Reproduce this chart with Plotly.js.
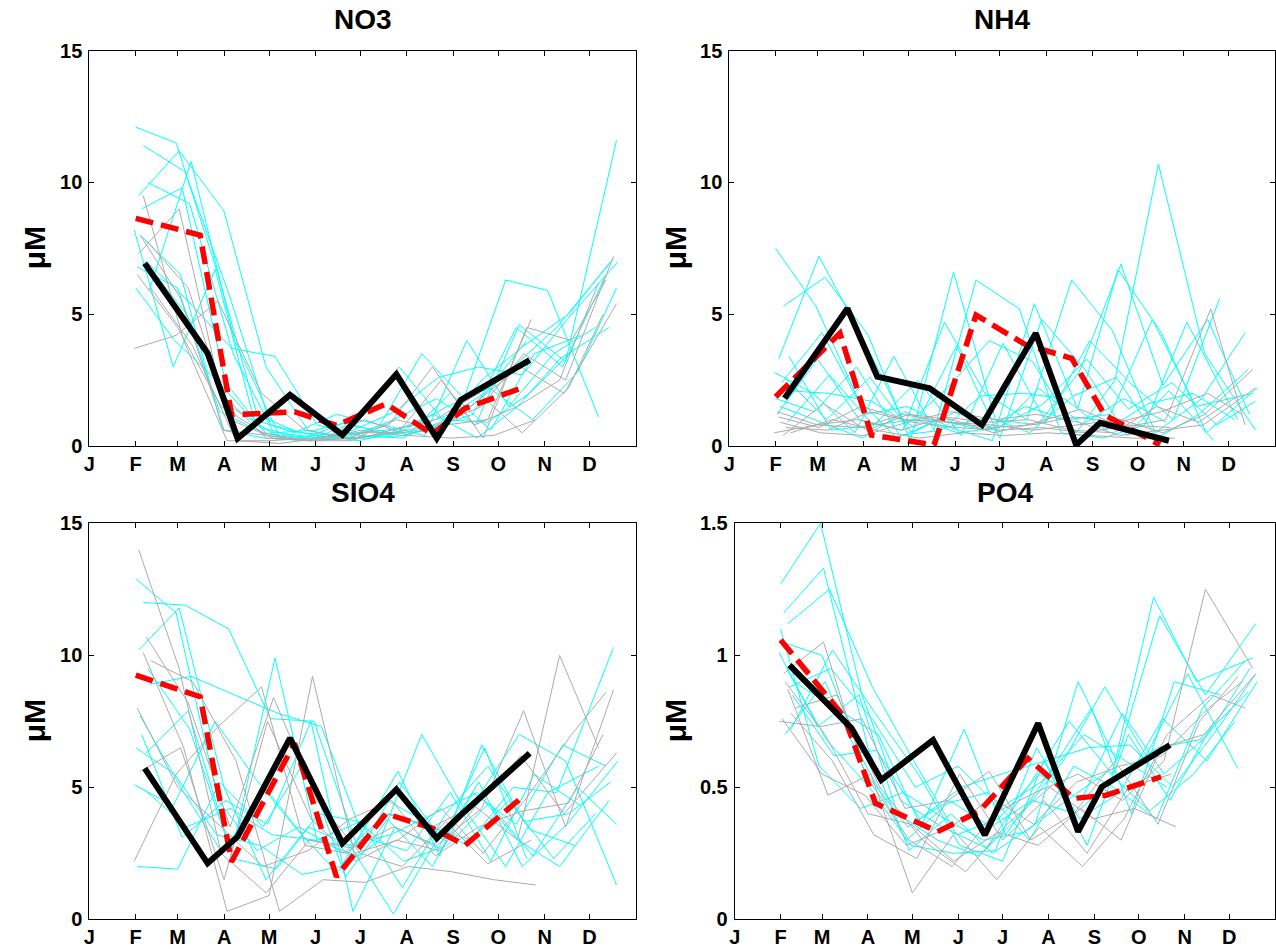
<!DOCTYPE html>
<html>
<head>
<meta charset="utf-8">
<script src="https://cdn.plot.ly/plotly-3.0.1.min.js"></script>
<style>html,body{margin:0;padding:0;background:#fff;}#chart{width:1276px;height:949px;}</style>
</head>
<body>
<div id="chart"></div>
<script>
// ---------- axis ticks ----------
const monthLabels = ['J','F','M','A','M','J','J','A','S','O','N','D'];
const monthStarts = [0,31,59,90,120,151,181,212,243,273,304,334];
const panelTitles = ['NO3','NH4','SIO4','PO4'];
const yUnit = 'μM';

// ---------- sampling days (day of year) of the individual years ----------
const cyanDays = [
  [31,58,86,112,140,170,198,226,255,283,312,350],
  [33,60,90,118,146,174,203,232,258,287,318,352],
  [36,64,93,121,150,178,206,234,262,290,320,348],
  [30,56,84,110,137,165,194,222,250,278,306,340],
  [38,66,95,124,152,181,209,238,266,294,324],
  [32,59,87,116,144,171,199,229,256,285,316,345],
  [40,68,97,126,155,183,212,241,268,297,328],
  [35,62,91,119,148,176,204,233,260,289,319,353],
  [31,57,85,114,142,168,196,224,252,280,310,338],
  [37,65,94,122,151,179,207,236,264,292],
  [34,61,89,117,145,173,201,230,259,286,314,347],
  [39,67,96,125,153,180,210,239,267,296,326,352]
];
const grayDays = [
  [33,60,88,118,147,175,203,232,262,290,318,350],
  [36,63,92,120,149,177,206,235,263,292,322,345],
  [30,58,86,115,144,172,200,229,257,286,314,340],
  [38,66,94,123,152,181,209,238,266,295],
  [34,61,90,119,148,178,205,234,261,288,317,352],
  [41,69,98,127,156,184,213,242,270,298],
  [32,59,88,116,146,174,202,231,260,289,320,343]
];
const meanDays   = [37,79,99,134,169,205,232,248,294];
const medianDays = [31,74,95,137,165,198,229,251,288];

// ---------- NO3 ----------
const no3Cyan = [
  [12.1,11.5,6.5,1.2,0.5,0.4,0.6,0.9,1.5,3.0,4.5,7.1],
  [9.5,11.2,8.9,3.0,0.6,0.3,1.0,1.8,0.8,4.6,3.2,11.6],
  [11.4,10.4,5.8,0.8,0.4,0.3,0.5,0.6,2.5,3.8,5.0,7.0],
  [8.2,3.0,6.7,1.0,0.5,1.2,0.8,3.5,1.8,6.3,5.9,1.1],
  [7.0,5.5,3.7,3.4,0.8,0.4,0.3,1.0,0.9,2.0,3.7],
  [6.8,6.0,1.3,0.5,0.3,0.9,0.4,0.7,1.2,4.5,3.0,6.5],
  [5.9,10.8,4.0,0.5,0.3,0.3,0.4,2.0,0.6,3.5,4.2],
  [9.0,9.8,2.4,0.4,0.2,0.6,1.3,2.6,3.0,2.7,4.8,7.0],
  [6.0,4.0,2.5,0.7,0.3,0.3,0.8,0.4,4.0,1.5,3.5,4.5],
  [7.0,5.0,1.5,0.5,0.6,1.0,3.0,1.0,2.0,4.0],
  [8.0,6.5,0.6,0.3,0.2,0.8,0.5,1.2,0.3,1.5,3.3,4.5],
  [10.0,9.2,3.5,0.3,0.4,0.2,0.6,1.5,2.2,1.0,2.8,6.0]
];
const no3Gray = [
  [7.3,9.0,2.0,0.3,0.2,0.3,0.5,0.8,1.5,3.5,2.5,7.2],
  [9.5,4.0,0.2,0.2,0.3,0.5,0.5,2.5,0.3,4.5,4.0,6.3],
  [3.7,4.2,5.5,2.0,0.6,0.3,0.8,3.0,0.8,1.5,2.5,6.2],
  [7.8,6.0,1.0,0.3,0.2,0.6,0.4,0.8,1.0,4.8],
  [8.0,5.6,0.6,0.4,0.2,0.3,1.0,0.6,1.8,3.0,2.0,5.4],
  [6.0,3.8,0.2,0.1,0.3,1.0,0.4,0.3,0.4,1.0],
  [6.5,4.5,1.5,0.5,0.2,0.2,0.6,1.0,2.0,0.5,2.2,5.0]
];
const no3Mean   = [6.93,3.52,0.29,1.94,0.42,2.72,0.29,1.75,3.26];
const no3Median = [8.64,8.0,1.18,1.3,0.78,1.6,0.45,1.43,2.19];

// ---------- NH4 ----------
const nh4Cyan = [
  [7.5,5.3,1.8,0.3,1.0,0.6,1.5,1.0,1.2,4.8,1.5,2.0],
  [3.3,7.2,4.0,0.8,2.2,4.0,3.2,0.5,2.5,10.7,3.5,0.6],
  [5.3,6.4,4.2,0.2,6.6,1.0,0.8,2.8,6.9,2.3,4.8,1.2],
  [2.8,2.0,0.5,3.4,0.6,6.3,5.2,0.5,0.3,0.8,4.7,1.0],
  [2.1,2.0,1.7,0.7,3.8,0.3,4.8,2.9,0.4,2.1,0.2],
  [1.2,3.3,1.0,0.6,4.7,2.0,1.0,6.3,4.4,0.5,1.8,4.3],
  [3.4,0.6,0.8,2.5,0.4,3.9,0.9,4.0,2.4,1.0,5.6],
  [2.4,4.3,1.2,1.5,0.7,0.2,5.4,1.4,6.7,4.3,0.5,2.2],
  [1.8,1.3,3.0,0.4,0.6,1.9,2.0,1.8,0.6,1.6,2.0,1.0],
  [2.6,1.0,2.6,0.5,1.3,0.6,2.2,0.8,1.8,0.9],
  [1.5,0.9,0.3,1.3,0.7,1.1,0.5,1.9,2.6,0.3,1.2,2.9],
  [0.9,2.7,0.8,1.0,0.5,0.7,1.6,3.3,1.4,2.4,0.8,1.7]
];
const nh4Gray = [
  [1.1,0.7,1.5,1.0,0.9,0.8,0.6,0.8,1.0,0.5,1.2,2.9],
  [0.4,1.6,0.6,1.2,1.0,0.5,0.9,1.4,0.7,1.0,5.2,0.8],
  [0.5,0.8,1.0,0.6,1.1,0.9,1.0,0.6,0.5,1.5,0.9,1.9],
  [0.7,0.6,1.3,0.9,0.7,0.6,0.7,0.5,0.8,0.7],
  [0.9,0.5,0.4,0.9,1.3,1.0,1.2,0.9,0.4,0.6,0.8,2.2],
  [0.5,1.0,0.6,0.3,0.5,0.4,0.5,0.4,0.3,0.3],
  [1.3,0.8,0.7,1.2,0.9,0.7,0.8,1.1,0.9,1.3,2.0,1.2]
];
const nh4Mean   = [1.81,5.22,2.63,2.19,0.8,4.28,0.04,0.88,0.2];
const nh4Median = [1.87,4.28,0.42,0.04,4.97,3.85,3.33,1.18,0.04];

// ---------- SIO4 ----------
const sio4Cyan = [
  [12.9,11.6,4.5,2.6,3.5,2.5,4.0,3.5,3.0,5.0,4.8,10.3],
  [10.2,11.8,5.0,1.5,3.5,2.8,0.2,3.0,4.5,7.0,6.0,1.3],
  [12.0,11.9,11.0,7.6,7.5,2.9,5.6,2.4,6.6,3.7,4.0,5.2],
  [5.1,4.3,7.5,5.4,3.5,1.8,3.0,7.0,4.2,2.0,4.8,5.8],
  [6.3,7.9,2.5,9.9,3.0,3.7,1.2,4.0,5.8,3.4,2.8],
  [2.0,1.9,5.2,3.5,6.0,1.6,3.8,2.0,4.8,3.6,6.6,5.8],
  [8.9,9.2,8.5,7.8,7.3,3.1,2.6,4.8,2.2,5.5,4.3],
  [7.0,3.1,4.5,3.6,7.5,0.3,3.5,2.7,5.2,2.0,3.6,6.0],
  [6.5,5.5,3.2,2.8,1.7,2.0,4.6,3.7,2.8,4.5,2.3,4.0],
  [4.9,3.5,4.2,3.2,3.0,2.4,5.2,3.0,6.5,2.3],
  [7.7,5.0,2.5,5.0,3.0,2.8,3.2,4.0,4.8,3.0,2.0,4.5],
  [9.5,7.2,2.3,1.9,4.0,3.7,2.2,2.8,4.4,2.4,5.0,3.6]
];
const sio4Gray = [
  [14.0,9.5,2.5,1.0,3.0,2.7,3.5,2.8,4.2,7.9,3.5,8.7],
  [10.1,6.5,0.3,0.9,9.2,2.5,3.0,4.2,2.5,4.6,7.0,8.6],
  [2.2,5.5,7.3,8.8,2.8,2.5,4.0,3.5,4.3,3.0,10.0,6.5],
  [10.7,8.2,3.5,8.4,4.5,2.5,2.0,3.7,2.1,3.0],
  [5.6,6.5,1.5,7.5,3.8,2.2,3.0,2.6,4.5,6.2,4.0,6.3],
  [9.8,9.0,6.0,0.3,1.5,1.4,2.0,1.8,1.5,1.3],
  [8.0,5.0,3.5,2.0,2.6,3.8,4.5,2.4,3.5,4.1,4.4,7.0]
];
const sio4Mean   = [5.72,2.12,3.13,6.86,2.88,4.92,3.07,3.95,6.29];
const sio4Median = [9.25,8.43,2.18,6.67,1.61,4.0,3.45,2.81,4.58];

// ---------- PO4 ----------
const po4Cyan = [
  [1.27,1.50,0.85,0.45,0.35,0.27,0.50,0.75,0.55,1.22,0.90,0.99],
  [1.16,1.33,0.65,0.26,0.40,0.25,0.36,0.90,0.60,1.15,0.85,1.12],
  [1.12,1.25,0.88,0.60,0.32,0.38,0.55,0.45,0.78,0.55,0.70,0.95],
  [1.01,0.73,0.85,0.40,0.30,0.24,0.40,0.60,0.88,0.62,0.93,0.57],
  [0.72,1.02,0.78,0.55,0.28,0.22,0.60,0.28,0.70,0.45,0.75],
  [1.05,1.00,0.60,0.30,0.44,0.48,0.30,0.58,0.50,0.38,0.80,0.98],
  [0.90,0.80,0.70,0.35,0.72,0.32,0.55,0.80,0.40,0.90,0.85],
  [0.95,0.68,0.50,0.28,0.25,0.26,0.65,0.38,0.48,0.76,0.60,0.90],
  [1.10,0.58,0.42,0.48,0.38,0.30,0.33,0.45,0.56,0.41,0.55,0.75],
  [0.88,0.95,0.75,0.50,0.58,0.42,0.52,0.70,0.60,0.50],
  [0.70,0.90,0.55,0.35,0.45,0.35,0.45,0.40,0.55,0.65,0.68,0.86],
  [0.85,0.62,0.64,0.38,0.50,0.55,0.60,0.65,0.66,0.50,0.72,0.93]
];
const po4Gray = [
  [0.93,1.05,0.55,0.30,0.20,0.40,0.48,0.55,0.45,0.60,1.25,0.95],
  [0.87,0.47,0.55,0.10,0.33,0.15,0.35,0.20,0.38,0.70,0.85,0.80],
  [0.75,0.73,0.76,0.42,0.45,0.56,0.30,0.40,0.60,0.36,0.75,0.92],
  [0.78,0.60,0.32,0.23,0.55,0.30,0.45,0.25,0.50,0.55],
  [0.90,0.70,0.40,0.36,0.22,0.33,0.28,0.42,0.30,0.65,0.70,0.93],
  [0.80,0.85,0.50,0.30,0.18,0.36,0.50,0.38,0.42,0.35],
  [0.76,0.55,0.47,0.28,0.35,0.46,0.36,0.52,0.58,0.62,0.80,0.90]
];
const po4Mean   = [0.963,0.723,0.528,0.679,0.319,0.742,0.332,0.502,0.66];
const po4Median = [1.058,0.767,0.44,0.332,0.408,0.61,0.458,0.47,0.54];

const yMax  = [15, 15, 15, 1.5];
const yTick = [[0,5,10,15],[0,5,10,15],[0,5,10,15],[0,0.5,1,1.5]];

// ---------- build traces ----------
const panels = [
  {cyan:no3Cyan,  gray:no3Gray,  mean:no3Mean,  median:no3Median},
  {cyan:nh4Cyan,  gray:nh4Gray,  mean:nh4Mean,  median:nh4Median},
  {cyan:sio4Cyan, gray:sio4Gray, mean:sio4Mean, median:sio4Median},
  {cyan:po4Cyan,  gray:po4Gray,  mean:po4Mean,  median:po4Median}
];
const traces = [];
panels.forEach((p, i) => {
  const xa = i === 0 ? 'x' : 'x' + (i + 1);
  const ya = i === 0 ? 'y' : 'y' + (i + 1);
  p.cyan.forEach((vals, k) => traces.push({
    x: cyanDays[k].slice(0, vals.length), y: vals, xaxis: xa, yaxis: ya,
    mode: 'lines', line: {color: '#00FFFF', width: 1}, hoverinfo: 'skip'
  }));
  p.gray.forEach((vals, k) => traces.push({
    x: grayDays[k].slice(0, vals.length), y: vals, xaxis: xa, yaxis: ya,
    mode: 'lines', line: {color: '#ABABAB', width: 1}, hoverinfo: 'skip'
  }));
  traces.push({x: medianDays, y: p.median, xaxis: xa, yaxis: ya, mode: 'lines',
    line: {color: '#FF0000', width: 5.5, dash: '18px,8px'}});
  traces.push({x: meanDays, y: p.mean, xaxis: xa, yaxis: ya, mode: 'lines',
    line: {color: '#000000', width: 6}});
});

// ---------- layout (pixel based) ----------
const W = 1276, H = 949;
const px = v => v / W;
const py = v => 1 - v / H;
const boxes = [
  {l: 89.3,  r: 636,  t: 50.7,  b: 446},
  {l: 729.3, r: 1275, t: 50.7,  b: 446},
  {l: 89.3,  r: 636,  t: 523.3, b: 919.3},
  {l: 734.7, r: 1275, t: 523.3, b: 919.3}
];
const tickFont = {family: 'Liberation Sans, Arial, sans-serif', size: 20, color: '#000', weight: 'bold'};
const layout = {
  width: W, height: H, showlegend: false,
  margin: {l: 0, r: 0, t: 0, b: 0},
  paper_bgcolor: '#fff', plot_bgcolor: '#fff',
  annotations: []
};
boxes.forEach((b, i) => {
  const sx = i === 0 ? '' : String(i + 1);
  layout['xaxis' + sx] = {
    domain: [px(b.l), px(b.r)], anchor: 'y' + sx, range: [0, 365],
    tickvals: monthStarts, ticktext: monthLabels, ticks: 'inside', ticklen: 5,
    tickcolor: '#000', showline: true, linecolor: '#000', linewidth: 1, mirror: 'ticks',
    showgrid: false, zeroline: false, tickfont: tickFont, ticklabelstandoff: 0, fixedrange: true
  };
  layout['yaxis' + sx] = {
    domain: [py(b.b), py(b.t)], anchor: 'x' + sx, range: [0, yMax[i]],
    tickvals: yTick[i], ticks: 'inside', ticklen: 5,
    tickcolor: '#000', showline: true, linecolor: '#000', linewidth: 1, mirror: 'ticks',
    showgrid: false, zeroline: false, tickfont: tickFont, ticklabelstandoff: 2, fixedrange: true
  };
  layout.annotations.push({
    text: panelTitles[i], xref: 'paper', yref: 'paper',
    x: px((b.l + b.r) / 2), y: py(b.t - 31), xanchor: 'center', yanchor: 'middle',
    showarrow: false, font: {family: 'Liberation Sans, Arial, sans-serif', size: 28, color: '#000', weight: 'bold'}
  });
  layout.annotations.push({
    text: yUnit, xref: 'paper', yref: 'paper', textangle: -90,
    x: px(i % 2 === 0 ? 34 : 675), y: py((b.t + b.b) / 2), xanchor: 'center', yanchor: 'middle',
    showarrow: false, font: {family: 'Liberation Sans, Arial, sans-serif', size: 30, color: '#000', weight: 'bold'}
  });
});

Plotly.newPlot('chart', traces, layout, {staticPlot: true, displayModeBar: false});
</script>
</body>
</html>
